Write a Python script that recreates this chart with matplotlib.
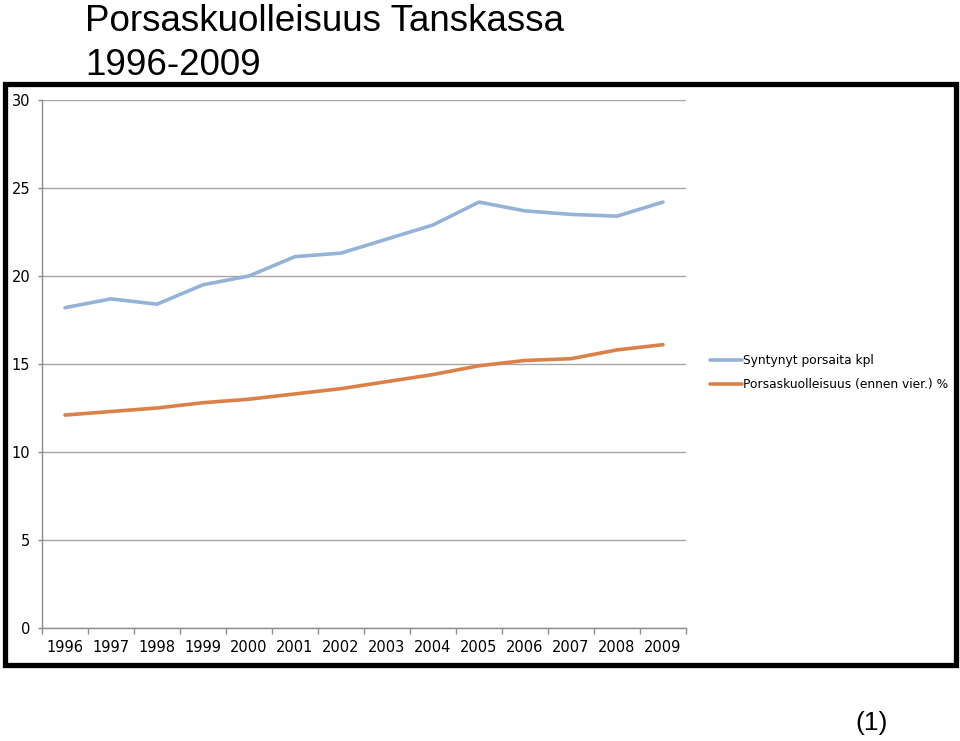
import numpy as np
import matplotlib.pyplot as plt
from matplotlib.patches import Rectangle

years = ['1996', '1997', '1998', '1999', '2000', '2001', '2002',
         '2003', '2004', '2005', '2006', '2007', '2008', '2009']
syntynyt = [18.2, 18.7, 18.4, 19.5, 20.0, 21.1, 21.3,
            22.1, 22.9, 24.2, 23.7, 23.5, 23.4, 24.2]
kuolleisuus = [12.1, 12.3, 12.5, 12.8, 13.0, 13.3, 13.6,
               14.0, 14.4, 14.9, 15.2, 15.3, 15.8, 16.1]
labels = ['Syntynyt porsaita kpl', 'Porsaskuolleisuus (ennen vier.) %']

fig = plt.figure(figsize=(9.6, 7.41), dpi=100)
ax = fig.add_axes([42/960, 1 - 628/741, (686 - 42)/960, (628 - 100)/741])

x = np.arange(len(years))
ax.plot(x, syntynyt, color='#95B3D7', lw=2.6, label=labels[0], solid_capstyle='round')
ax.plot(x, kuolleisuus, color='#DB8148', lw=2.6, label=labels[1], solid_capstyle='round')

ax.set_xlim(-0.5, len(years) - 0.5)
ax.set_ylim(0, 30)
ax.set_yticks(range(0, 31, 5))
ax.set_xticks(x)
ax.set_xticklabels(years)
ax.set_xticks(np.arange(-0.5, len(years)), minor=True)
ax.tick_params(axis='x', which='major', length=0, pad=9, labelsize=10.5, colors='black')
ax.tick_params(axis='x', which='minor', length=4, color='#8C8C8C', width=1)
ax.tick_params(axis='y', length=3, color='#8C8C8C', width=1, pad=5.5, labelsize=10.5)
ax.grid(axis='y', color='#A6A6A6', lw=1)
ax.set_axisbelow(True)
for s in ['top', 'right']:
    ax.spines[s].set_visible(False)
for s in ['left', 'bottom']:
    ax.spines[s].set_color('#8C8C8C')
    ax.spines[s].set_linewidth(1)

ax.legend(loc='center left', bbox_to_anchor=(1.037, 0.484), frameon=False,
          fontsize=8.8, handlelength=2.6, handletextpad=0.1, labelspacing=0.9,
          borderpad=0, borderaxespad=0)

fig.patches.append(Rectangle((4.5/960, 1 - 665/741), (955.5 - 4.5)/960, (665 - 84)/741,
                             transform=fig.transFigure, fill=False, lw=3.8,
                             edgecolor='black'))

fig.text(85/960, 1 - 31/741, 'Porsaskuolleisuus Tanskassa',
         family='Liberation Sans', fontsize=26.5, va='baseline')
fig.text(85/960, 1 - 75/741, '1996-2009',
         family='Liberation Sans', fontsize=26.5, va='baseline')
fig.text(872/960, 1 - 735/741, '(1)', family='Liberation Sans', fontsize=19,
         ha='center', va='bottom')

fig.savefig('out.png', dpi=100)
